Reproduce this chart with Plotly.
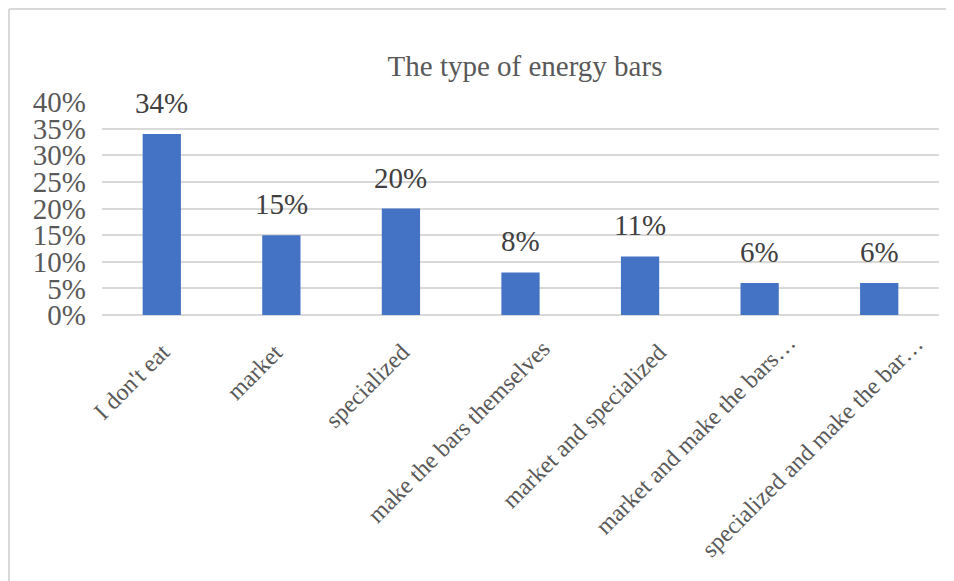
import plotly.graph_objects as go

categories = ["I don't eat", "market", "specialized", "make the bars themselves",
              "market and specialized", "market and make the bars\u2026",
              "specialized and make the bar\u2026"]
values = [34, 15, 20, 8, 11, 6, 6]
data_labels = ["34%", "15%", "20%", "8%", "11%", "6%", "6%"]
y_ticks = [0, 5, 10, 15, 20, 25, 30, 35, 40]
y_tick_labels = ["0%", "5%", "10%", "15%", "20%", "25%", "30%", "35%", "40%"]
title_text = "The type of energy bars"

# style: pixel nudges of the rotated category labels (Excel-like placement)
label_xshift = [15, 9, 16, 37, 34, 44, 52]
label_yshift = [-21, -21, -21, -18, -21, -11, -13]

FONT = "Liberation Serif"
OFF = 8  # page body margin
W, H = 954 - OFF, 581 - OFF
# plot area in screen pixels: x 102..939, y 102..315
ML = 102 - OFF
MT = 102 - OFF
MR = (954 - 939)
MB = 581 - 315

fig = go.Figure()
fig.add_trace(go.Bar(x=categories, y=values, marker_color="#4472C4",
                     marker_line_width=0, hoverinfo="skip"))

for c, v, t in zip(categories, values, data_labels):
    fig.add_annotation(x=c, y=v, text=t, showarrow=False, yanchor="bottom",
                       yshift=13, font=dict(family=FONT, size=29, color="#404040"))

for c, xs, ys in zip(categories, label_xshift, label_yshift):
    fig.add_annotation(x=c, y=0, text=c, showarrow=False, textangle=-45,
                       xanchor="right", yanchor="top", xshift=xs, yshift=ys,
                       font=dict(family=FONT, size=24, color="#595959"))

pw = W - ML - MR
ph = H - MT - MB
def px_x(px):
    return (px - OFF - ML) / pw
def px_y(py):
    return (H - MB - (py - OFF)) / ph

border = dict(color="#D9D9D9", width=2)
fig.add_shape(type="line", xref="paper", yref="paper",
              x0=px_x(9), x1=px_x(9), y0=px_y(9), y1=px_y(600), line=border)
fig.add_shape(type="line", xref="paper", yref="paper",
              x0=px_x(9), x1=px_x(980), y0=px_y(9), y1=px_y(9), line=border)

fig.update_layout(
    width=W, height=H,
    margin=dict(l=ML, r=MR, t=MT, b=MB, autoexpand=False),
    paper_bgcolor="white", plot_bgcolor="white",
    bargap=0.68,
    showlegend=False,
    title=dict(text=title_text, x=(525 - OFF) / W, xanchor="center", xref="container",
               y=1 - (66 - OFF) / H, yanchor="middle", yref="container",
               font=dict(family=FONT, size=29, color="#595959")),
    xaxis=dict(range=[-0.5, len(categories) - 0.5], showgrid=False, zeroline=False,
               showline=False, showticklabels=False, ticks=""),
    yaxis=dict(range=[0, 40], tickvals=y_ticks, ticktext=y_tick_labels,
               showgrid=True, gridcolor="#D9D9D9", gridwidth=1.5,
               zeroline=True, zerolinecolor="#D9D9D9", zerolinewidth=1.5,
               showline=False, ticks="", ticklabelstandoff=15,
               tickfont=dict(family=FONT, size=29, color="#595959")),
)

fig.write_html("out.html")
